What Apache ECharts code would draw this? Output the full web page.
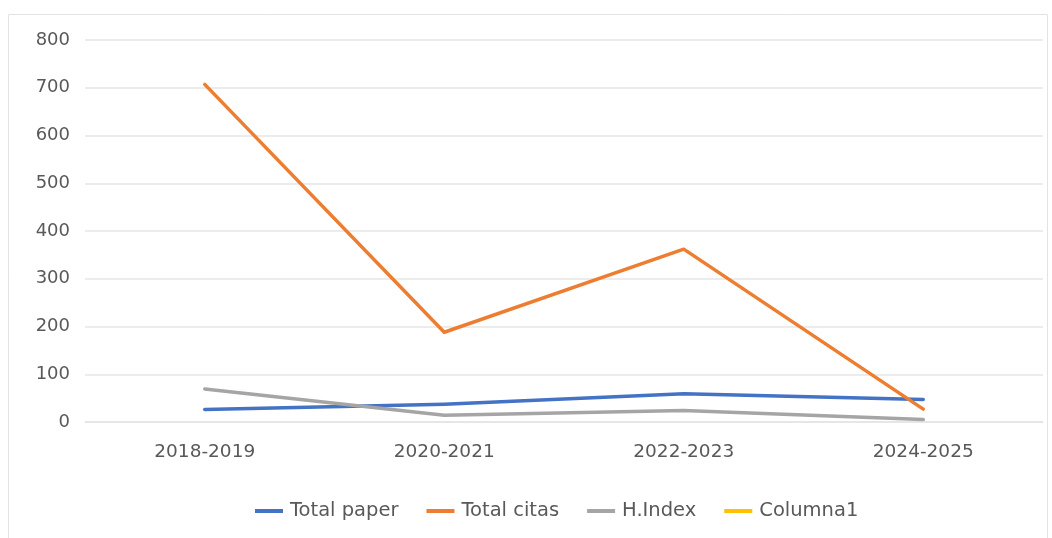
<!DOCTYPE html>
<html><head><meta charset="utf-8">
<script src="https://cdn.jsdelivr.net/npm/echarts@6/dist/echarts.min.js"></script>
<style>html,body{margin:0;padding:0;background:#fff}#c{width:1052px;height:538px}</style>
</head><body><div id="c"></div>
<script>
const categories = ['2018-2019','2020-2021','2022-2023','2024-2025'];
const totalPaper = [26, 37, 59, 47];
const totalCitas = [707, 188, 362, 27];
const hIndex = [69, 14, 24, 5];
const columna1 = [];
const yTicks = [0, 800, 100];

const chart = echarts.init(document.getElementById('c'));
const font = '"DejaVu Sans", sans-serif';
function line(name, data, color){
  return {name, type:'line', data, symbol:'none', showSymbol:false,
    lineStyle:{color, width:3.5, cap:'round', join:'round'}, itemStyle:{color}};
}
chart.setOption({
  animation:false,
  backgroundColor:'#fff',
  graphic:[{type:'rect', shape:{x:8.5,y:14.5,width:1039,height:530}, style:{fill:'none', stroke:'#e3e3e3', lineWidth:1}}],
  grid:{left:85, right:9, top:40, bottom:116},
  legend:{top:496, left:250, itemWidth:28, itemHeight:4, itemGap:28,
    icon:'rect', textStyle:{color:'#595959', fontSize:19.5, fontFamily:font, padding:[0,0,0,2]},
    data:['Total paper','Total citas','H.Index','Columna1']},
  xAxis:{type:'category', data:categories, boundaryGap:true,
    axisLine:{show:true, lineStyle:{color:'#e3e3e3', width:1.5}}, axisTick:{show:false},
    axisLabel:{color:'#595959', fontSize:18.5, fontFamily:font, margin:21}},
  yAxis:{type:'value', min:yTicks[0], max:yTicks[1], interval:yTicks[2],
    axisLine:{show:false}, axisTick:{show:false},
    splitLine:{lineStyle:{color:'#e6e6e6', width:1.5}},
    axisLabel:{color:'#595959', fontSize:18, fontFamily:font, margin:15}},
  series:[
    line('Total paper', totalPaper, '#4472C4'),
    line('Total citas', totalCitas, '#ED7D31'),
    line('H.Index', hIndex, '#A5A5A5'),
    line('Columna1', columna1, '#FFC000')
  ]
});
</script></body></html>
